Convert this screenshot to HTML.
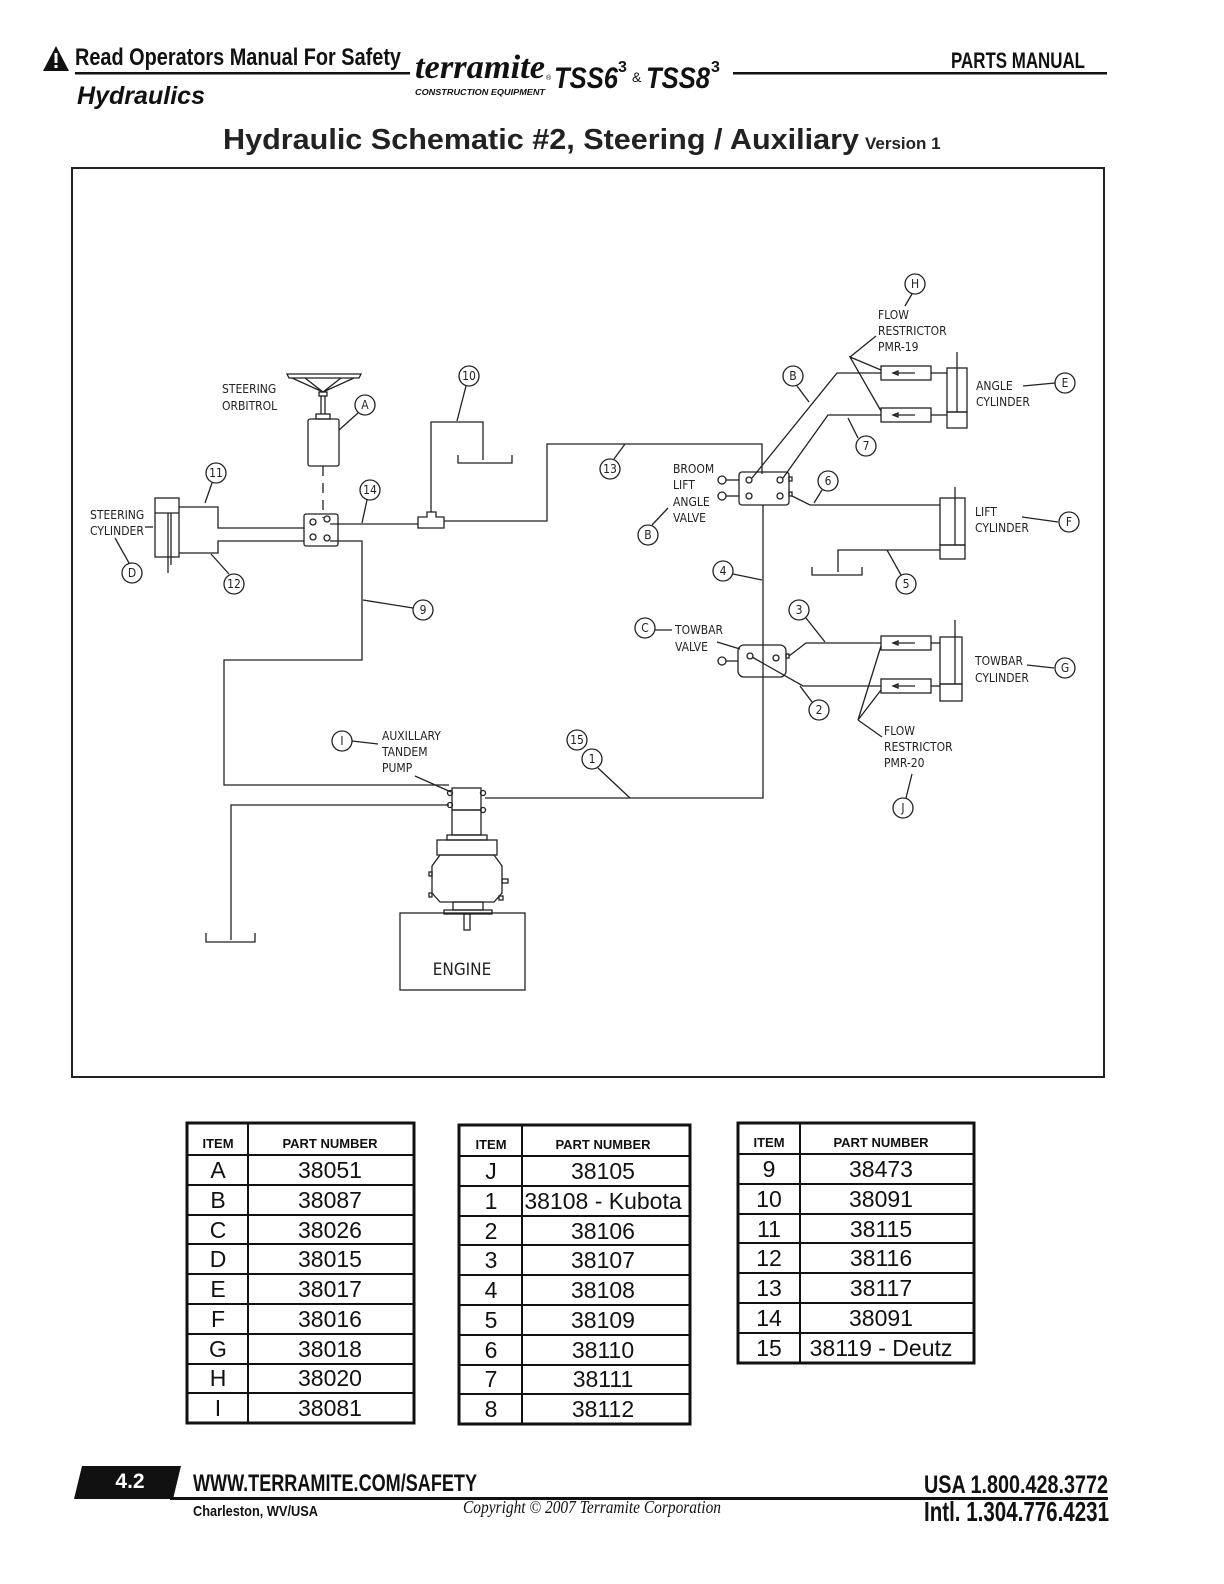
<!DOCTYPE html>
<html><head><meta charset="utf-8"><style>
html,body{margin:0;padding:0;background:#fff;width:1224px;height:1584px;overflow:hidden}
svg{display:block}
.d text{font-family:"DejaVu Sans Condensed","Liberation Sans",sans-serif;font-size:12px;fill:#222}
.d line,.d polyline,.d rect,.d circle,.d path,.d polygon{stroke:#222;stroke-width:1.3;fill:none}
.c{font-size:11px}
</style></head><body>
<svg width="1224" height="1584" viewBox="0 0 1224 1584" xmlns="http://www.w3.org/2000/svg">
<!-- header -->
<polygon points="56,46 43,71 69,71" fill="#111"/>
<rect x="54.5" y="53" width="3" height="10" fill="#fff"/><rect x="54.5" y="65" width="3" height="3" fill="#fff"/>
<text x="75" y="65" font-family="Liberation Sans" font-weight="bold" font-size="24" textLength="326" lengthAdjust="spacingAndGlyphs" fill="#111">Read Operators Manual For Safety</text>
<rect x="75" y="72" width="335" height="2.5" fill="#111"/>
<text x="77" y="104" font-family="Liberation Sans" font-weight="bold" font-style="italic" font-size="25" textLength="128" lengthAdjust="spacingAndGlyphs" fill="#111">Hydraulics</text>
<text x="415" y="78" font-family="Liberation Serif" font-weight="bold" font-style="italic" font-size="34" textLength="130" lengthAdjust="spacingAndGlyphs" fill="#111">terramite</text>
<text x="546" y="80" font-family="Liberation Sans" font-size="7" fill="#111">®</text>
<text x="415" y="95" font-family="Liberation Sans" font-weight="bold" font-style="italic" font-size="8" textLength="130" lengthAdjust="spacingAndGlyphs" fill="#111">CONSTRUCTION EQUIPMENT</text>
<text x="554" y="88" font-family="Liberation Sans" font-weight="bold" font-style="italic" font-size="30" textLength="64" lengthAdjust="spacingAndGlyphs" fill="#111">TSS6</text>
<text x="618" y="72" font-family="Liberation Sans" font-weight="bold" font-size="16" fill="#111">3</text>
<text x="632" y="82" font-family="Liberation Sans" font-size="14" fill="#111">&amp;</text>
<text x="646" y="88" font-family="Liberation Sans" font-weight="bold" font-style="italic" font-size="30" textLength="64" lengthAdjust="spacingAndGlyphs" fill="#111">TSS8</text>
<text x="711" y="72" font-family="Liberation Sans" font-weight="bold" font-size="16" fill="#111">3</text>
<rect x="733" y="72" width="374" height="2.5" fill="#111"/>
<text x="951" y="68" font-family="Liberation Sans" font-weight="bold" font-size="22" textLength="134" lengthAdjust="spacingAndGlyphs" fill="#111">PARTS MANUAL</text>
<text x="223" y="149" font-family="Liberation Sans" font-weight="bold" font-size="29" textLength="636" lengthAdjust="spacingAndGlyphs" fill="#222">Hydraulic Schematic #2, Steering / Auxiliary</text>
<text x="865" y="149" font-family="Liberation Sans" font-weight="bold" font-size="17" fill="#222">Version 1</text>

<!-- diagram frame -->
<rect x="72" y="168" width="1032" height="909" fill="none" stroke="#222" stroke-width="2"/>

<g class="d">
<!-- steering wheel + orbitrol -->
<path d="M287,374 L361,374 L359,378 L289,378 Z"/>
<path d="M292,378 L323,392 L354,378 M305,378 L323,392 L341,378"/>
<rect x="319" y="392" width="8" height="4"/>
<line x1="321" y1="396" x2="321" y2="414"/><line x1="325" y1="396" x2="325" y2="414"/>
<rect x="316" y="414" width="14" height="5"/>
<rect x="308" y="419" width="31" height="47" rx="2"/>
<line x1="323" y1="466" x2="323" y2="518" stroke-dasharray="10,7"/>
<text x="222" y="393">STEERING</text><text x="222" y="410">ORBITROL</text>
<circle cx="365" cy="405" r="10"/><text x="365" y="409" text-anchor="middle" class="c">A</text>
<line x1="358" y1="413" x2="339" y2="430"/>
<!-- steering valve -->
<rect x="304" y="514" width="34" height="32" rx="2"/>
<circle cx="313" cy="522" r="3"/><circle cx="313" cy="537" r="3"/><circle cx="327" cy="519" r="3"/><circle cx="327" cy="538" r="3"/>
<!-- steering cylinder -->
<rect x="155" y="498" width="24" height="59"/><line x1="155" y1="513" x2="179" y2="513"/>
<line x1="168" y1="513" x2="168" y2="573" stroke-width="2"/><line x1="171" y1="513" x2="171" y2="565"/>
<polyline points="179,507 218,507 218,528 304,528"/>
<polyline points="179,553 218,553 218,541 304,541"/>
<text x="90" y="519">STEERING</text><text x="90" y="535">CYLINDER</text>
<line x1="145" y1="527" x2="153" y2="527"/>
<circle cx="216" cy="473" r="10"/><text x="216" y="477" text-anchor="middle" class="c">11</text>
<line x1="212" y1="483" x2="205" y2="503"/>
<circle cx="234" cy="584" r="10"/><text x="234" y="588" text-anchor="middle" class="c">12</text>
<line x1="229" y1="574" x2="211" y2="554"/>
<circle cx="132" cy="573" r="10"/><text x="132" y="577" text-anchor="middle" class="c">D</text>
<line x1="129" y1="563" x2="115" y2="538"/>
<!-- line 14, tee, 10 -->
<polyline points="330,524 418,524"/>
<circle cx="370" cy="490" r="10"/><text x="370" y="494" text-anchor="middle" class="c">14</text>
<line x1="367" y1="500" x2="362" y2="523"/>
<path d="M418,517 L427,517 L427,512 L436,512 L436,517 L444,517 L444,528 L418,528 Z"/>
<polyline points="431,512 431,422 483,422 483,460"/>
<polyline points="458,455 458,463 512,463 512,455"/>
<circle cx="469" cy="376" r="10"/><text x="469" y="380" text-anchor="middle" class="c">10</text>
<line x1="466" y1="386" x2="457" y2="421"/>
<polyline points="444,521 547,521 547,444 762,444 762,474"/>
<circle cx="610" cy="469" r="10"/><text x="610" y="473" text-anchor="middle" class="c">13</text>
<line x1="614" y1="459" x2="625" y2="444"/>
<!-- line 9 loop -->
<polyline points="330,541 362,541 362,660 224,660 224,785 449,785"/>
<circle cx="423" cy="610" r="10"/><text x="423" y="614" text-anchor="middle" class="c">9</text>
<line x1="413" y1="608" x2="363" y2="600"/>
<!-- pump & engine -->
<rect x="452" y="788" width="29" height="22"/><rect x="452" y="810" width="29" height="25"/>
<circle cx="450" cy="793" r="2.5"/><circle cx="450" cy="805" r="2.5"/><circle cx="483" cy="793" r="2.5"/><circle cx="483" cy="810" r="2.5"/>
<rect x="447" y="835" width="40" height="5"/>
<rect x="437" y="840" width="60" height="15"/>
<polygon points="440,855 494,855 502,866 502,893 494,902 440,902 432,893 432,866"/>
<rect x="429" y="872" width="3" height="4"/><rect x="429" y="893" width="3" height="4"/><rect x="502" y="879" width="6" height="4"/><rect x="499" y="896" width="4" height="4"/>
<rect x="453" y="902" width="30" height="8"/><rect x="444" y="910" width="48" height="4"/>
<rect x="464" y="914" width="6" height="16"/>
<rect x="400" y="913" width="125" height="77"/>
<text x="462" y="975" text-anchor="middle" style="font-size:17px">ENGINE</text>
<polyline points="449,805 231,805 231,940"/>
<polyline points="206,933 206,942 255,942 255,933"/>
<polyline points="485,798 763,798 763,505"/>
<circle cx="342" cy="741" r="10"/><text x="342" y="745" text-anchor="middle" class="c">I</text>
<line x1="352" y1="741" x2="378" y2="744"/>
<text x="382" y="740">AUXILLARY</text><text x="382" y="756">TANDEM</text><text x="382" y="772">PUMP</text>
<line x1="415" y1="776" x2="451" y2="792"/>
<circle cx="577" cy="740" r="10"/><text x="577" y="744" text-anchor="middle" class="c">15</text>
<circle cx="592" cy="759" r="10"/><text x="592" y="763" text-anchor="middle" class="c">1</text>
<line x1="598" y1="768" x2="630" y2="798"/>
<!-- broom valve -->
<rect x="739" y="472" width="50" height="33" rx="3"/>
<circle cx="749" cy="480" r="3"/><circle cx="749" cy="496" r="3"/><circle cx="780" cy="480" r="3"/><circle cx="780" cy="496" r="3"/>
<rect x="789" y="477" width="3" height="4"/><rect x="789" y="492" width="3" height="4"/>
<circle cx="722" cy="480" r="4"/><circle cx="722" cy="496" r="4"/>
<line x1="726" y1="480" x2="739" y2="480"/><line x1="726" y1="496" x2="739" y2="496" stroke-width="2"/>
<text x="673" y="473">BROOM</text><text x="673" y="489">LIFT</text><text x="673" y="506">ANGLE</text><text x="673" y="522">VALVE</text>
<circle cx="648" cy="535" r="10"/><text x="648" y="539" text-anchor="middle" class="c">B</text>
<line x1="652" y1="525" x2="668" y2="508"/>
<!-- B & 7 lines to angle cylinder -->
<polyline points="752,478 837,373 881,373"/>
<polyline points="783,478 828,415 881,415"/>
<circle cx="793" cy="376" r="10"/><text x="793" y="380" text-anchor="middle" class="c">B</text>
<line x1="797" y1="386" x2="809" y2="402"/>
<circle cx="866" cy="446" r="10"/><text x="866" y="450" text-anchor="middle" class="c">7</text>
<line x1="858" y1="438" x2="848" y2="418"/>
<rect x="881" y="366" width="50" height="14"/><line x1="893" y1="373" x2="915" y2="373"/><path d="M893,373 l5,-2 v4 z" fill="#222"/>
<rect x="881" y="408" width="50" height="14"/><line x1="893" y1="415" x2="915" y2="415"/><path d="M893,415 l5,-2 v4 z" fill="#222"/>
<line x1="931" y1="373" x2="947" y2="373"/><line x1="931" y1="415" x2="947" y2="415"/>
<rect x="947" y="368" width="20" height="44"/><rect x="947" y="412" width="20" height="16"/>
<line x1="957" y1="352" x2="957" y2="412" stroke-width="2"/>
<circle cx="915" cy="284" r="10"/><text x="915" y="288" text-anchor="middle" class="c">H</text>
<line x1="912" y1="294" x2="905" y2="306"/>
<text x="878" y="319">FLOW</text><text x="878" y="335">RESTRICTOR</text><text x="878" y="351">PMR-19</text>
<polyline points="881,370 850,357 881,411"/>
<line x1="850" y1="357" x2="876" y2="336"/>
<text x="976" y="390">ANGLE</text><text x="976" y="406">CYLINDER</text>
<line x1="1023" y1="386" x2="1055" y2="383"/>
<circle cx="1065" cy="383" r="10"/><text x="1065" y="387" text-anchor="middle" class="c">E</text>
<!-- line 6 lift cylinder -->
<polyline points="792,496 810,505 940,505"/>
<circle cx="828" cy="481" r="10"/><text x="828" y="485" text-anchor="middle" class="c">6</text>
<line x1="822" y1="490" x2="814" y2="503"/>
<rect x="940" y="498" width="25" height="47"/><rect x="940" y="545" width="25" height="14"/>
<line x1="955" y1="487" x2="955" y2="545" stroke-width="2"/>
<polyline points="940,550 838,550 838,572"/>
<polyline points="812,567 812,575 862,575 862,567"/>
<circle cx="906" cy="584" r="10"/><text x="906" y="588" text-anchor="middle" class="c">5</text>
<line x1="901" y1="575" x2="887" y2="550"/>
<text x="975" y="516">LIFT</text><text x="975" y="532">CYLINDER</text>
<line x1="1022" y1="517" x2="1058" y2="522"/>
<circle cx="1069" cy="522" r="10"/><text x="1069" y="526" text-anchor="middle" class="c">F</text>
<circle cx="723" cy="571" r="10"/><text x="723" y="575" text-anchor="middle" class="c">4</text>
<line x1="733" y1="574" x2="762" y2="580"/>
<!-- towbar valve -->
<rect x="738" y="645" width="48" height="32" rx="6"/>
<circle cx="750" cy="656" r="3"/><circle cx="776" cy="658" r="3"/>
<rect x="786" y="654" width="3" height="4"/>
<circle cx="722" cy="661" r="4"/><line x1="726" y1="661" x2="738" y2="661" stroke-width="2"/>
<circle cx="645" cy="628" r="10"/><text x="645" y="632" text-anchor="middle" class="c">C</text>
<line x1="655" y1="630" x2="672" y2="630"/>
<text x="675" y="634">TOWBAR</text><text x="675" y="651">VALVE</text>
<line x1="717" y1="642" x2="740" y2="649"/>
<polyline points="789,656 806,643 881,643"/>
<polyline points="752,657 803,686 881,686"/>
<circle cx="799" cy="610" r="10"/><text x="799" y="614" text-anchor="middle" class="c">3</text>
<line x1="806" y1="618" x2="825" y2="642"/>
<circle cx="819" cy="710" r="10"/><text x="819" y="714" text-anchor="middle" class="c">2</text>
<line x1="812" y1="702" x2="800" y2="686"/>
<rect x="881" y="636" width="50" height="14"/><line x1="893" y1="643" x2="915" y2="643"/><path d="M893,643 l5,-2 v4 z" fill="#222"/>
<rect x="881" y="679" width="50" height="14"/><line x1="893" y1="686" x2="915" y2="686"/><path d="M893,686 l5,-2 v4 z" fill="#222"/>
<line x1="931" y1="643" x2="940" y2="643"/><line x1="931" y1="686" x2="940" y2="686"/>
<rect x="940" y="637" width="22" height="47"/><rect x="940" y="684" width="22" height="17"/>
<line x1="955" y1="620" x2="955" y2="684" stroke-width="2"/>
<text x="975" y="665">TOWBAR</text><text x="975" y="682">CYLINDER</text>
<line x1="1027" y1="665" x2="1054" y2="668"/>
<circle cx="1065" cy="668" r="10"/><text x="1065" y="672" text-anchor="middle" class="c">G</text>
<polyline points="881,646 858,720 881,690"/>
<line x1="858" y1="720" x2="882" y2="737"/>
<text x="884" y="735">FLOW</text><text x="884" y="751">RESTRICTOR</text><text x="884" y="767">PMR-20</text>
<line x1="912" y1="774" x2="906" y2="798"/>
<circle cx="903" cy="808" r="10"/><text x="903" y="812" text-anchor="middle" class="c">J</text>
</g>

<!-- tables -->
<g font-family="Liberation Sans" fill="#111" stroke="none">
<rect x="187" y="1123" width="227" height="300" fill="none" stroke="#111" stroke-width="3"/>
<line x1="248" y1="1123" x2="248" y2="1423" stroke="#111" stroke-width="2"/>
<g stroke="#111" stroke-width="2">
<line x1="187" y1="1155" x2="414" y2="1155"/><line x1="187" y1="1185" x2="414" y2="1185"/><line x1="187" y1="1215" x2="414" y2="1215"/><line x1="187" y1="1244" x2="414" y2="1244"/><line x1="187" y1="1274" x2="414" y2="1274"/><line x1="187" y1="1304" x2="414" y2="1304"/><line x1="187" y1="1334" x2="414" y2="1334"/><line x1="187" y1="1364" x2="414" y2="1364"/><line x1="187" y1="1393" x2="414" y2="1393"/>
</g>
<g font-size="13" font-weight="bold" text-anchor="middle"><text x="218" y="1148">ITEM</text><text x="330" y="1148">PART NUMBER</text></g>
<g font-size="23" text-anchor="middle">
<text x="218" y="1178">A</text><text x="330" y="1178">38051</text>
<text x="218" y="1208">B</text><text x="330" y="1208">38087</text>
<text x="218" y="1238">C</text><text x="330" y="1238">38026</text>
<text x="218" y="1267">D</text><text x="330" y="1267">38015</text>
<text x="218" y="1297">E</text><text x="330" y="1297">38017</text>
<text x="218" y="1327">F</text><text x="330" y="1327">38016</text>
<text x="218" y="1357">G</text><text x="330" y="1357">38018</text>
<text x="218" y="1386">H</text><text x="330" y="1386">38020</text>
<text x="218" y="1416">I</text><text x="330" y="1416">38081</text>
</g>
<rect x="459" y="1125" width="231" height="299" fill="none" stroke="#111" stroke-width="3"/>
<line x1="522" y1="1125" x2="522" y2="1424" stroke="#111" stroke-width="2"/>
<g stroke="#111" stroke-width="2">
<line x1="459" y1="1156" x2="690" y2="1156"/><line x1="459" y1="1186" x2="690" y2="1186"/><line x1="459" y1="1216" x2="690" y2="1216"/><line x1="459" y1="1245" x2="690" y2="1245"/><line x1="459" y1="1275" x2="690" y2="1275"/><line x1="459" y1="1305" x2="690" y2="1305"/><line x1="459" y1="1335" x2="690" y2="1335"/><line x1="459" y1="1365" x2="690" y2="1365"/><line x1="459" y1="1394" x2="690" y2="1394"/>
</g>
<g font-size="13" font-weight="bold" text-anchor="middle"><text x="491" y="1149">ITEM</text><text x="603" y="1149">PART NUMBER</text></g>
<g font-size="23" text-anchor="middle">
<text x="491" y="1179">J</text><text x="603" y="1179">38105</text>
<text x="491" y="1209">1</text><text x="603" y="1209">38108 - Kubota</text>
<text x="491" y="1239">2</text><text x="603" y="1239">38106</text>
<text x="491" y="1268">3</text><text x="603" y="1268">38107</text>
<text x="491" y="1298">4</text><text x="603" y="1298">38108</text>
<text x="491" y="1328">5</text><text x="603" y="1328">38109</text>
<text x="491" y="1358">6</text><text x="603" y="1358">38110</text>
<text x="491" y="1387">7</text><text x="603" y="1387">38111</text>
<text x="491" y="1417">8</text><text x="603" y="1417">38112</text>
</g>
<rect x="738" y="1123" width="236" height="240" fill="none" stroke="#111" stroke-width="3"/>
<line x1="800" y1="1123" x2="800" y2="1363" stroke="#111" stroke-width="2"/>
<g stroke="#111" stroke-width="2">
<line x1="738" y1="1154" x2="974" y2="1154"/><line x1="738" y1="1184" x2="974" y2="1184"/><line x1="738" y1="1214" x2="974" y2="1214"/><line x1="738" y1="1243" x2="974" y2="1243"/><line x1="738" y1="1273" x2="974" y2="1273"/><line x1="738" y1="1303" x2="974" y2="1303"/><line x1="738" y1="1333" x2="974" y2="1333"/>
</g>
<g font-size="13" font-weight="bold" text-anchor="middle"><text x="769" y="1147">ITEM</text><text x="881" y="1147">PART NUMBER</text></g>
<g font-size="23" text-anchor="middle">
<text x="769" y="1177">9</text><text x="881" y="1177">38473</text>
<text x="769" y="1207">10</text><text x="881" y="1207">38091</text>
<text x="769" y="1237">11</text><text x="881" y="1237">38115</text>
<text x="769" y="1266">12</text><text x="881" y="1266">38116</text>
<text x="769" y="1296">13</text><text x="881" y="1296">38117</text>
<text x="769" y="1326">14</text><text x="881" y="1326">38091</text>
<text x="769" y="1356">15</text><text x="881" y="1356">38119 - Deutz</text>
</g>
</g>

<!-- footer -->
<polygon points="82,1466 181,1466 173,1499 74,1499" fill="#111"/>
<text x="130" y="1488" text-anchor="middle" font-family="Liberation Sans" font-weight="bold" font-size="21" fill="#fff">4.2</text>
<rect x="170" y="1497" width="938" height="3" fill="#111"/>
<text x="193" y="1491" font-family="Liberation Sans" font-weight="bold" font-size="24" textLength="284" lengthAdjust="spacingAndGlyphs" fill="#111">WWW.TERRAMITE.COM/SAFETY</text>
<text x="924" y="1493" font-family="Liberation Sans" font-weight="bold" font-size="25" textLength="184" lengthAdjust="spacingAndGlyphs" fill="#111">USA 1.800.428.3772</text>
<text x="193" y="1516" font-family="Liberation Sans" font-weight="bold" font-size="15" textLength="125" lengthAdjust="spacingAndGlyphs" fill="#111">Charleston, WV/USA</text>
<text x="463" y="1513" font-family="Liberation Serif" font-style="italic" font-size="18" textLength="258" lengthAdjust="spacingAndGlyphs" fill="#111">Copyright © 2007 Terramite Corporation</text>
<text x="924" y="1521" font-family="Liberation Sans" font-weight="bold" font-size="28" textLength="185" lengthAdjust="spacingAndGlyphs" fill="#111">Intl. 1.304.776.4231</text>
</svg>
</body></html>
